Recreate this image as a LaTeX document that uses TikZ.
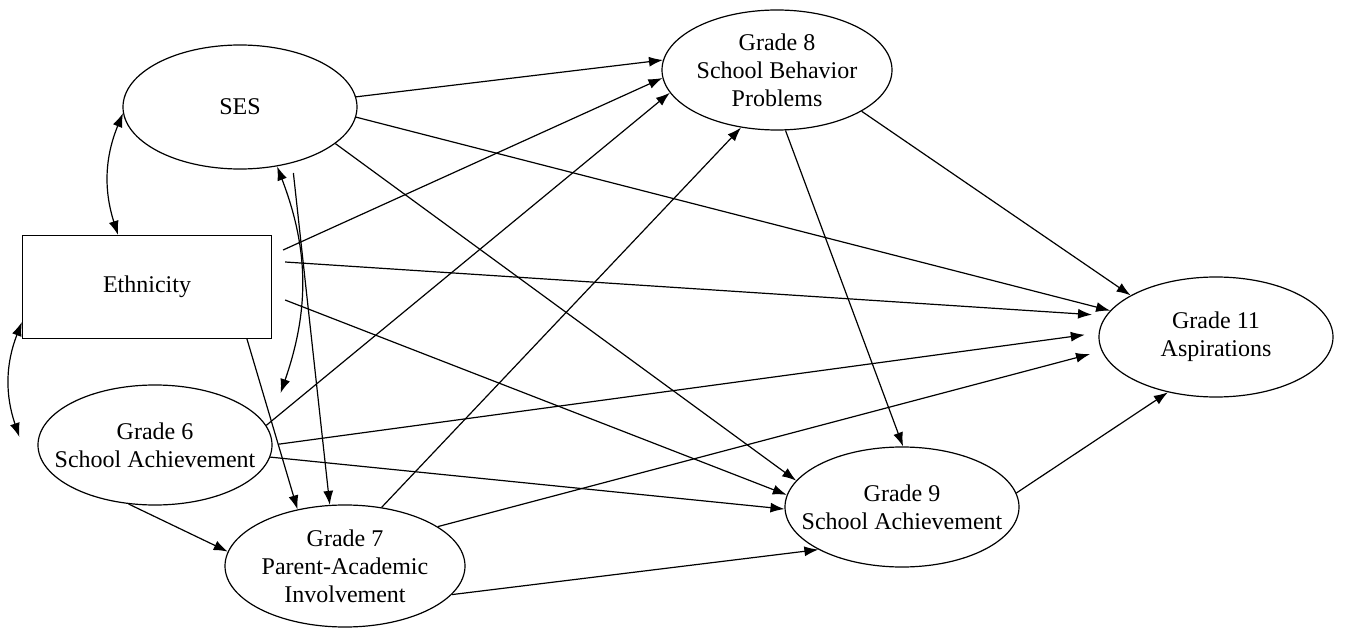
\documentclass[tikz,border=0pt]{standalone}
\usepackage{fontspec}
\setmainfont{Liberation Serif}
\usetikzlibrary{shapes.geometric,arrows.meta}

\begin{document}
\begin{tikzpicture}[x=0.5pt,y=-0.5pt]%
  \tikzstyle{elli}=[ellipse,draw,line width=0.6pt,inner xsep=-9pt,inner ysep=0,align=center,font=\fontsize{12}{14}\selectfont]
  \tikzstyle{boxn}=[rectangle,draw,line width=0.6pt,inner sep=0,font=\fontsize{12}{14}\selectfont]
  \tikzstyle{pth}=[-{Latex[length=7pt,width=5pt]},line width=0.6pt]
  \tikzstyle{both}=[{Latex[length=7pt,width=5pt]}-{Latex[length=7pt,width=5pt]},line width=0.6pt]
  \useasboundingbox (0,0) rectangle (1346,631);
  % variables
  \node(ses)[elli,minimum width=117pt,minimum height=62pt] at (240,107){SES};
  \node(eth)[boxn,minimum width=124.5pt,minimum height=51.5pt] at (147,287){Ethnicity};
  \node(g6)[elli,minimum width=117pt,minimum height=60pt] at (155,445){Grade 6\\School Achievement};
  \node(g7)[elli,minimum width=120pt,minimum height=61pt] at (345,566){Grade 7\\Parent-Academic\\Involvement};
  \node(g8)[elli,minimum width=115pt,minimum height=60pt] at (777,70){Grade 8\\School Behavior\\Problems};
  \node(g9)[elli,minimum width=117pt,minimum height=60pt] at (902,507){Grade 9\\School Achievement};
  \node(g11)[elli,minimum width=117pt,minimum height=60pt] at (1216,337){Grade 11\\Aspirations};
  % correlations
  \draw[both] (ses.183) to[bend right=20] ([xshift=-14.5pt]eth.north);
  \draw[both] ([yshift=-17.5pt]eth.west) to[bend right=20] ([xshift=-9pt,yshift=4pt]g6.west);
  \draw[both] (ses.302) to[bend left=20] ([xshift=4pt,yshift=26pt]g6.east);
  % paths
  \draw[pth] (ses.5) -- (g8.175);
  \draw[pth] (ses.355) -- (g11.166);
  \draw[pth] (ses.339) -- (g9.166);
  \draw[pth,shorten <=5pt] (ses.313) -- (g7.104);
  \draw[pth] ([xshift=5.5pt,yshift=18.5pt]eth.east) -- (g8.184);
  \draw[pth,shorten >=7pt] ([xshift=6.5pt,yshift=12.5pt]eth.east) -- (g11.169);
  \draw[pth] ([xshift=6.5pt,yshift=-6.5pt]eth.east) -- (g9.174);
  \draw[pth] ([xshift=50pt]eth.south) -- (g7.130);
  \draw[pth] (g6.10) -- (g8.192);
  \draw[pth,shorten <=3pt,shorten >=7pt] (g6.0) -- (g11.178);
  \draw[pth] (g6.354) -- (g9.181);
  \draw[pth] (g6.246) -- (g7.173);
  \draw[pth] (g7.58) -- (g8.238);
  \draw[pth,shorten >=6pt] (g7.23) -- (g11.187);
  \draw[pth] (g7.345) -- (g9.207);
  \draw[pth] (g8.278) -- (g9.89);
  \draw[pth] (g8.334) -- (g11.154);
  \draw[pth] (g9.7) -- (g11.229);
\end{tikzpicture}
\end{document}
